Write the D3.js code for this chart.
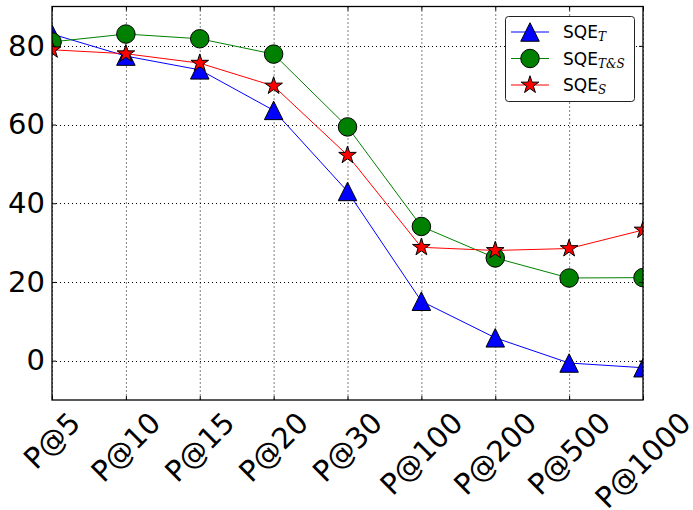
<!DOCTYPE html>
<html>
<head>
<meta charset="utf-8">
<script src="https://cdn.jsdelivr.net/npm/d3@7"></script>
<style>
  html, body { margin: 0; padding: 0; background: #fff; }
  svg { display: block; }
  text { font-family: "DejaVu Sans", sans-serif; }
</style>
</head>
<body>
<svg id="chart" width="693" height="510"></svg>
<script>
// Precision at k for the three query-expansion variants
const categories = ["P@5", "P@10", "P@15", "P@20", "P@30", "P@100", "P@200", "P@500", "P@1000"];
const sqeT  = [83.0, 77.4, 73.9, 63.6, 43.0, 15.1, 5.8, -0.6, -1.8];
const sqeTS = [81.0, 83.0, 81.8, 77.9, 59.4, 34.1, 26.1, 21.0, 21.1];
const sqeS  = [79.0, 78.0, 75.6, 69.8, 52.2, 28.8, 28.0, 28.5, 33.2];
const yTicks = [0, 20, 40, 60, 80];

const seriesNames = ["T", "T&S", "S"];

const svg = d3.select("#chart");
const margin = { left: 52, right: 50, top: 6.5, bottom: 110 };
const W = 693, H = 510;
const x0 = margin.left, x1 = W - margin.right;
const y0 = margin.top, y1 = H - margin.bottom;

const x = d3.scalePoint().domain(categories).range([x0, x1]);
const y = d3.scaleLinear().domain([-10, 90]).range([y1, y0]);

const series = [
  { name: seriesNames[0], values: sqeT,  color: "#0000ff", marker: "tri" },
  { name: seriesNames[1], values: sqeTS, color: "#008000", marker: "circle" },
  { name: seriesNames[2], values: sqeS,  color: "#ff0000", marker: "star" }
];

const ms = 18.5;
function markerPath(kind) {
  const r = ms / 2;
  if (kind === "tri") return `M0,${-r}L${r},${r}L${-r},${r}Z`;
  if (kind === "circle") return d3.arc()({ innerRadius: 0, outerRadius: r, startAngle: 0, endAngle: 2 * Math.PI });
  // five-pointed star
  const ri = r * 0.381966;
  let p = "";
  for (let i = 0; i < 10; i++) {
    const rad = i % 2 === 0 ? r : ri;
    const a = -Math.PI / 2 + i * Math.PI / 5;
    p += (i === 0 ? "M" : "L") + (rad * Math.cos(a)).toFixed(3) + "," + (rad * Math.sin(a)).toFixed(3);
  }
  return p + "Z";
}

svg.append("defs").append("clipPath").attr("id", "plotclip")
  .append("rect").attr("x", x0).attr("y", y0).attr("width", x1 - x0).attr("height", y1 - y0);

// grid
const grid = svg.append("g").attr("stroke", "#000").attr("stroke-width", 1).attr("stroke-dasharray", "1,3");
grid.selectAll("line.v").data(categories).join("line")
  .attr("x1", d => x(d) + 0.5).attr("x2", d => x(d) + 0.5).attr("y1", y0).attr("y2", y1);
grid.selectAll("line.h").data(yTicks).join("line")
  .attr("x1", x0).attr("x2", x1).attr("y1", d => Math.round(y(d)) + 0.5).attr("y2", d => Math.round(y(d)) + 0.5);

// series lines and markers
const plot = svg.append("g").attr("clip-path", "url(#plotclip)");
series.forEach(s => {
  const line = d3.line().x((d, i) => x(categories[i])).y(d => y(d));
  plot.append("path").datum(s.values).attr("d", line)
    .attr("fill", "none").attr("stroke", s.color).attr("stroke-width", 1);
});
series.forEach(s => {
  plot.selectAll(null).data(s.values).join("path")
    .attr("transform", (d, i) => `translate(${x(categories[i])},${y(d)})`)
    .attr("d", markerPath(s.marker))
    .attr("fill", s.color).attr("stroke", "#000").attr("stroke-width", 1);
});

// axes (ticks inward on all four sides)
const tickLen = 4;
const axB = svg.append("g").attr("transform", `translate(0,${y1})`)
  .call(d3.axisBottom(x).tickSizeInner(-tickLen).tickSizeOuter(0).tickFormat(""));
const axT = svg.append("g").attr("transform", `translate(0,${y0})`)
  .call(d3.axisTop(x).tickSizeInner(-tickLen).tickSizeOuter(0).tickFormat(""));
const axL = svg.append("g").attr("transform", `translate(${x0},0)`)
  .call(d3.axisLeft(y).tickValues(yTicks).tickSizeInner(-tickLen).tickSizeOuter(0).tickPadding(7));
const axR = svg.append("g").attr("transform", `translate(${x1},0)`)
  .call(d3.axisRight(y).tickValues(yTicks).tickSizeInner(-tickLen).tickSizeOuter(0).tickFormat(""));
[axB, axT, axL, axR].forEach(a => { a.select(".domain").remove(); a.selectAll("line").attr("stroke", "#000"); });
axL.selectAll("text").attr("font-size", 29).attr("fill", "#000").attr("font-family", "DejaVu Sans");

// spines
svg.append("rect").attr("x", x0).attr("y", y0).attr("width", x1 - x0).attr("height", y1 - y0)
  .attr("fill", "none").attr("stroke", "#000").attr("stroke-width", 1.3);

// rotated category labels
const fs = 29;
const lab = svg.append("g");
categories.forEach(c => {
  const t = lab.append("text").text(c).attr("font-size", fs).attr("fill", "#000")
    .attr("text-anchor", "middle").attr("dominant-baseline", "central");
  const w = t.node().getComputedTextLength();
  const h = fs * 0.95;
  const half = (w + h) / (2 * Math.SQRT2);
  const cx = x(c), cy = y1 + 8 + half;
  t.attr("x", cx).attr("y", cy).attr("transform", `rotate(-45,${cx},${cy})`);
});

// legend
const lg = svg.append("g");
lg.append("rect").attr("x", 505.5).attr("y", 16.5).attr("width", 129).attr("height", 85)
  .attr("rx", 3).attr("fill", "#fff").attr("stroke", "#222").attr("stroke-width", 1);
series.forEach((s, i) => {
  const cy = 32 + i * 26.5;
  lg.append("line").attr("x1", 511).attr("x2", 549).attr("y1", cy).attr("y2", cy)
    .attr("stroke", s.color).attr("stroke-width", 1);
  lg.append("path").attr("transform", `translate(530,${cy})`).attr("d", markerPath(s.marker))
    .attr("fill", s.color).attr("stroke", "#000").attr("stroke-width", 1);
  const t = lg.append("text").attr("x", 563).attr("y", cy + 6).attr("font-size", 17).attr("fill", "#000");
  t.append("tspan").text("SQE");
  t.append("tspan").text(s.name).attr("font-family", "DejaVu Serif").attr("font-style", "italic")
    .attr("font-size", 12).attr("dy", 3);
});
</script>
</body>
</html>
